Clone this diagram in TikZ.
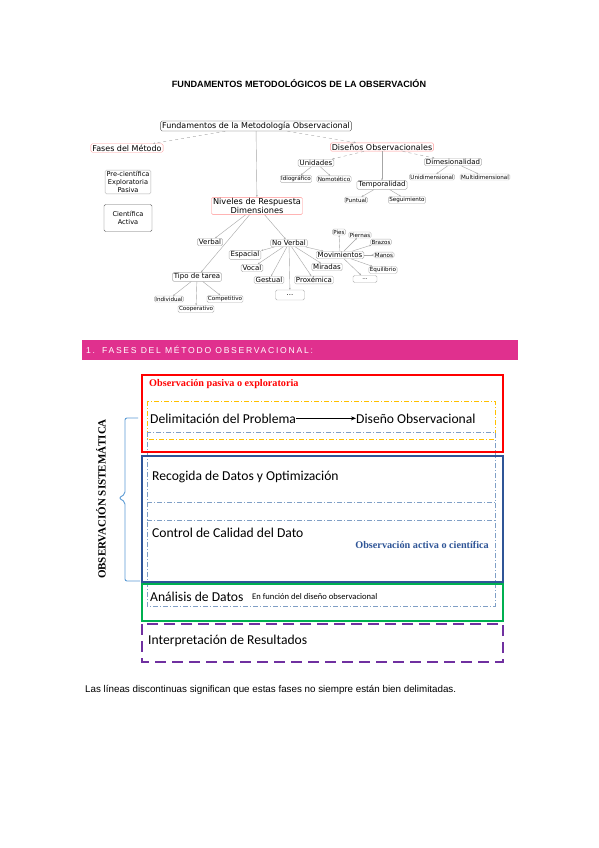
\documentclass[tikz,border=0pt]{standalone}
\usepackage{fontspec}
\setmainfont{Liberation Sans}
\newfontfamily\mapfont{DejaVu Sans}
\newfontfamily\boxfont{Carlito}
\newfontfamily\seriffont{Liberation Serif}
\usetikzlibrary{arrows.meta}

\definecolor{magentaB}{HTML}{E0308E}
\definecolor{redB}{HTML}{FF0000}
\definecolor{blueB}{HTML}{2F5597}
\definecolor{greenB}{HTML}{00B050}
\definecolor{purpleB}{HTML}{7030A0}
\definecolor{yellowB}{HTML}{FFC000}
\definecolor{steelB}{HTML}{7F9FC6}
\definecolor{braceB}{HTML}{5B9BD5}

\tikzset{
  cmbox/.style={draw=gray!60, line width=0.4pt, rounded corners=1.5pt, fill=white,
    inner xsep=1.5pt, inner ysep=1pt, font=\mapfont\fontsize{7}{7.5}\selectfont},
  cmmain/.style={cmbox, font=\mapfont\fontsize{8}{9}\selectfont},
  leaf/.style={cmbox, inner xsep=1pt, inner ysep=0.8pt, font=\mapfont\fontsize{5.6}{6}\selectfont},
  cmline/.style={gray!70, line width=0.4pt, -{Stealth[length=2pt,width=1.6pt]}},
  phase/.style={inner sep=0pt, font=\boxfont\fontsize{13.6}{15}\selectfont},
  dashdot/.style={line width=0.7pt, dash pattern=on 5pt off 2pt on 1pt off 2pt},
}

\begin{document}
\begin{tikzpicture}[x=1pt, y=-1pt]
  \useasboundingbox[fill=white] (0,0) rectangle (599,848);

  % titulo
  \node[font=\bfseries\fontsize{9.1}{10}\selectfont] (titulo) at (299,84)
    {FUNDAMENTOS METODOLÓGICOS DE LA OBSERVACIÓN};

  % mapa conceptual
  \node[cmmain, draw=black!70] (fund) at (256,126)
    {Fundamentos de la Metodología Observacional};
  \node[cmmain, draw=red!40] (fases) at (127,148) {Fases del Método};
  \node[cmbox, align=center, font=\mapfont\fontsize{6.6}{8.2}\selectfont] (pre) at (128,182)
    {Pre-científica\\Exploratoria\\Pasiva};
  \node[cmbox, draw=black!60, align=center, minimum width=48pt, minimum height=27pt,
    font=\mapfont\fontsize{6.6}{8.2}\selectfont] (cien) at (128,218) {Científica\\Activa};

  \node[cmmain, draw=red!40] (disenos) at (382,147) {Diseños Observacionales};
  \node[cmbox] (unid) at (316,163) {Unidades};
  \node[leaf] (idio) at (296,179) {Idiográfico};
  \node[leaf] (nomo) at (334,179) {Nomotético};
  \node[cmbox] (temp) at (382,185) {Temporalidad};
  \node[leaf] (punt) at (356,200) {Puntual};
  \node[leaf] (segu) at (407,200) {Seguimiento};
  \node[cmbox] (dime) at (453,162) {Dimesionalidad};
  \node[leaf] (unidim) at (432,177) {Unidimensional};
  \node[leaf] (multi) at (485,177) {Multidimensional};

  \node[cmmain, draw=red!45, align=center, font=\mapfont\fontsize{8.2}{9}\selectfont] (niveles) at (257,206)
    {Niveles de Respuesta\\Dimensiones};
  \node[cmbox] (verbal) at (210,242) {Verbal};
  \node[cmbox] (noverbal) at (289,243) {No Verbal};
  \node[cmbox] (espacial) at (245,255) {Espacial};
  \node[cmbox] (vocal) at (252,268) {Vocal};
  \node[cmbox] (gestual) at (269,280) {Gestual};
  \node[cmbox] (proxe) at (314,280) {Proxémica};
  \node[cmbox] (miradas) at (327,267) {Miradas};
  \node[cmbox] (movi) at (340,255) {Movimientos};
  \node[cmbox, minimum width=29pt, minimum height=10pt] (etcA) at (290,295) {...};
  \node[leaf, minimum width=24pt, minimum height=7pt] (etcB) at (365,279) {...};
  \node[leaf] (pies) at (339,232) {Pies};
  \node[leaf] (piernas) at (360,235) {Piernas};
  \node[leaf] (brazos) at (381,242) {Brazos};
  \node[leaf] (manos) at (384,255) {Manos};
  \node[leaf] (equil) at (383,270) {Equilibrio};
  \node[cmbox] (tarea) at (197,277) {Tipo de tarea};
  \node[leaf] (indiv) at (169,299) {Individual};
  \node[leaf] (coop) at (196,309) {Cooperativo};
  \node[leaf] (compe) at (225,299) {Competitivo};

  % conexiones del mapa
  \draw[cmline, dashed] (fund) -- (fases);
  \draw[cmline, dashed] (fund) -- (disenos);
  \draw[cmline] (fund) -- (niveles);
  \draw[cmline, dashed] (disenos) -- (unid);
  \draw[cmline] (disenos) -- (temp);
  \draw[cmline, dashed] (disenos) -- (dime);
  \draw[cmline] (unid) -- (idio);
  \draw[cmline] (unid) -- (nomo);
  \draw[cmline] (temp) -- (punt);
  \draw[cmline] (temp) -- (segu);
  \draw[cmline] (dime) -- (unidim);
  \draw[cmline] (dime) -- (multi);
  \draw[cmline] (niveles) -- (verbal);
  \draw[cmline] (niveles) -- (tarea);
  \draw[cmline] (niveles) -- (noverbal);
  \draw[cmline] (noverbal) -- (espacial);
  \draw[cmline] (noverbal) -- (vocal);
  \draw[cmline] (noverbal) -- (gestual);
  \draw[cmline] (noverbal) -- (etcA);
  \draw[cmline] (noverbal) -- (proxe);
  \draw[cmline] (noverbal) -- (miradas);
  \draw[cmline] (noverbal) -- (movi);
  \draw[cmline] (movi) -- (pies);
  \draw[cmline] (movi) -- (piernas);
  \draw[cmline] (movi) -- (brazos);
  \draw[cmline] (movi) -- (manos);
  \draw[cmline] (movi) -- (equil);
  \draw[cmline] (movi) -- (etcB);
  \draw[cmline] (tarea) -- (indiv);
  \draw[cmline] (tarea) -- (coop);
  \draw[cmline] (tarea) -- (compe);

  % cabecera de seccion
  \fill[magentaB] (82,340) rectangle (518,360);
  \node[anchor=west, text=white, inner sep=0pt,
    font=\fontsize{8.6}{10}\selectfont\addfontfeatures{LetterSpace=20}] (seccion) at (86,350)
    {1.\hspace{7pt}FASES DEL MÉTODO OBSERVACIONAL:};

  % cajas de las fases
  \draw[yellowB, dashdot] (147,401) rectangle (495,439);
  \draw[steelB, dashdot] (147,432) rectangle (495,606);
  \draw[steelB, dashdot] (147,502) -- (495,502);
  \draw[steelB, dashdot] (147,520) -- (495,520);
  \draw[redB, line width=2pt] (142,375) rectangle (503,452);
  \draw[blueB, line width=2pt] (142,456) rectangle (503,582);
  \draw[greenB, line width=2pt] (142,584) rectangle (503,621);
  \draw[purpleB, line width=2.4pt, dash pattern=on 11pt off 6pt] (142,624) rectangle (503,662);

  % textos de las fases
  \node[anchor=west, inner sep=0pt, text=redB, font=\seriffont\bfseries\fontsize{10.2}{11}\selectfont] (pasiva) at (149,384)
    {Observación pasiva o exploratoria};
  \node[phase, anchor=base west] (delim) at (150,423) {Delimitación del Problema};
  \node[phase, anchor=base west] (diseno) at (356,423) {Diseño Observacional};
  \draw[-{Stealth[length=5pt,width=4pt]}, line width=1.1pt] (delim) -- (diseno);
  \node[phase, anchor=base west] (recogida) at (152,480) {Recogida de Datos y Optimización};
  \node[phase, anchor=base west] (control) at (152,537) {Control de Calidad del Dato};
  \node[anchor=east, inner sep=0pt, text=blueB, font=\seriffont\bfseries\fontsize{10.2}{11}\selectfont] (activa) at (489,545)
    {Observación activa o científica};
  \node[phase, anchor=base west] (analisis) at (150,601) {Análisis de Datos};
  \node[anchor=base west, inner sep=0pt, font=\boxfont\fontsize{8.6}{9}\selectfont] (funcion) at (252,599)
    {En función del diseño observacional};
  \node[phase, anchor=base west] (interp) at (148,644) {Interpretación de Resultados};

  % llave y observacion sistematica
  \draw[braceB, line width=0.9pt, rounded corners=2pt]
    (138,418) -- (125,418) -- (125,494) -- (119,498) -- (125,502) -- (125,581) -- (140,581);
  \node[rotate=90, inner sep=0pt, font=\seriffont\bfseries\fontsize{11}{12}\selectfont] (sistematica) at (101,499)
    {OBSERVACIÓN SISTEMÁTICA};

  % nota
  \node[anchor=west, inner sep=0pt, font=\fontsize{9.8}{11}\selectfont] (nota) at (85,690)
    {Las líneas discontinuas significan que estas fases no siempre están bien delimitadas.};
\end{tikzpicture}
\end{document}
